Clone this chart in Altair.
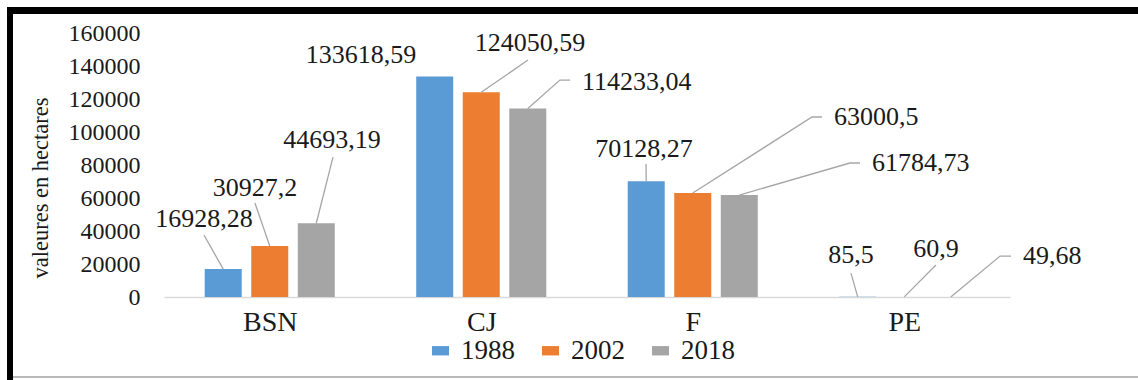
import json

import altair as alt
import pandas as pd

# Land cover areas (hectares) per unit and year
categories = ["BSN", "CJ", "F", "PE"]
years = ["1988", "2002", "2018"]
area_1988 = [16928.28, 133618.59, 70128.27, 85.5]
area_2002 = [30927.2, 124050.59, 63000.5, 60.9]
area_2018 = [44693.19, 114233.04, 61784.73, 49.68]
colors = ["#5b9bd5", "#ed7d31", "#a5a5a5"]
y_ticks = [0, 20000, 40000, 60000, 80000, 100000, 120000, 140000, 160000]

# Callout layout, one entry per bar (category-major, year-minor):
# label = (x shift from bar centre in category units, label height in hectares, alignment)
# leader = vertices of the leader line after the bar top
callouts = [
    {"label": (-0.091, 47300, "center"), "leader": [(-0.091, 37600)]},
    {"label": (-0.070, 66000, "center"), "leader": [(-0.070, 57000)]},
    {"label": (0.074, 95200, "center"), "leader": [(0.079, 84800)]},
    {"label": (-0.349, 146700, "center"), "leader": []},
    {"label": (0.230, 153900, "center"), "leader": [(0.221, 143600)]},
    {"label": (0.200, 130300, "left"), "leader": [(0.152, 131500), (0.200, 131500)]},
    {"label": (-0.010, 89700, "center"), "leader": [(-0.001, 80600)]},
    {"label": (0.611, 109100, "left"), "leader": [(0.564, 109100), (0.611, 109100)]},
    {"label": (0.571, 81200, "left"), "leader": [(0.523, 81200), (0.571, 81200)]},
    {"label": (-0.032, 25500, "center"), "leader": [(-0.032, 14500)]},
    {"label": (0.150, 29100, "center"), "leader": [(0.150, 19400)]},
    {"label": (0.285, 24800, "left"), "leader": [(0.233, 24800), (0.285, 24800)]},
]

GROUP_STEP = 0.22   # distance between bar centres inside a group
BAR_HALF = 0.0875   # half bar width, category units
FONT = "Liberation Serif, Times New Roman, serif"
TEXT = "#1a1a1a"

series = [area_1988, area_2002, area_2018]
bar_rows, text_rows, line_rows = [], [], []
k = 0
for i, cat in enumerate(categories):
    for j, yr in enumerate(years):
        v = series[j][i]
        xc = i + (j - 1) * GROUP_STEP
        bar_rows.append({"cat": cat, "year": yr, "value": v,
                         "x0": xc - BAR_HALF, "x1": xc + BAR_HALF})
        c = callouts[k]
        lx, ly, al = c["label"]
        text_rows.append({"x": xc + lx, "y": ly, "align": al,
                          "text": f"{v}".replace(".", ",")})
        if c["leader"]:
            line_rows.append({"id": k, "seq": 0, "x": xc, "y": v})
            for s, (dx, yy) in enumerate(c["leader"], start=1):
                line_rows.append({"id": k, "seq": s, "x": xc + dx, "y": yy})
        k += 1

bars_df = pd.DataFrame(bar_rows)
text_df = pd.DataFrame(text_rows)
lines_df = pd.DataFrame(line_rows)

xscale = alt.Scale(domain=[-0.5, 3.5], nice=False, zero=False)
yscale = alt.Scale(domain=[0, 160000], nice=False)

x_axis = alt.Axis(
    values=[0, 1, 2, 3], labelExpr=f"{json.dumps(categories)}[datum.value]",
    domainColor="#d9d9d9", domainWidth=1.5, ticks=False, grid=False,
    labelFont=FONT, labelFontSize=28, labelColor=TEXT, labelPadding=11,
    labelFlush=False, labelOverlap=False)
y_axis = alt.Axis(
    values=y_ticks, format="d", domain=False, ticks=False, grid=False,
    labelFont=FONT, labelFontSize=24, labelColor=TEXT, labelPadding=24,
    labelOverlap=False, labelBound=False,
    titleFont=FONT, titleFontSize=22.5, titleFontWeight="normal",
    titleColor=TEXT, titleX=-117, titleY=154.5, titleAngle=270,
    titleBaseline="alphabetic", titleAlign="center")
Y_TITLE = "valeures en hectares"

bars = alt.Chart(bars_df).mark_bar().encode(
    x=alt.X("x0:Q", scale=xscale, title=None, axis=x_axis),
    x2="x1:Q",
    y=alt.Y("value:Q", scale=yscale, title=Y_TITLE, axis=y_axis),
    y2=alt.datum(0),
    color=alt.Color("year:N", scale=alt.Scale(domain=years, range=colors),
                    legend=alt.Legend(
                        title=None, orient="none", direction="horizontal",
                        legendX=263, legendY=304, padding=0,
                        symbolType="M-1,-0.55H1V0.55H-1Z", symbolSize=289,
                        symbolStrokeWidth=0, labelFont=FONT, labelFontSize=27,
                        labelColor=TEXT, labelOffset=7, columnPadding=22)),
)

leaders = alt.Chart(lines_df).mark_line(color="#a6a6a6", strokeWidth=1.3).encode(
    x=alt.X("x:Q", scale=xscale, title=None, axis=x_axis),
    y=alt.Y("y:Q", scale=yscale, title=Y_TITLE, axis=y_axis),
    detail="id:N",
    order="seq:Q",
)

labels_c = alt.Chart(text_df).transform_filter("datum.align == 'center'").mark_text(
    font=FONT, fontSize=26, color=TEXT, align="center", baseline="middle"
).encode(x=alt.X("x:Q", scale=xscale, title=None, axis=x_axis),
         y=alt.Y("y:Q", scale=yscale, title=Y_TITLE, axis=y_axis), text="text:N")

labels_l = alt.Chart(text_df).transform_filter("datum.align == 'left'").mark_text(
    font=FONT, fontSize=26, color=TEXT, align="left", baseline="middle", dx=12
).encode(x=alt.X("x:Q", scale=xscale, title=None, axis=x_axis),
         y=alt.Y("y:Q", scale=yscale, title=Y_TITLE, axis=y_axis), text="text:N")

# Frame around the figure: heavy black top and left edges, thin grey bottom edge
one = pd.DataFrame({"k": [0]})
frame_top = alt.Chart(one).mark_rule(color="black", strokeWidth=7).encode(
    x=alt.value(-157), x2=alt.value(974), y=alt.value(-22.5))
frame_left = alt.Chart(one).mark_rule(color="black", strokeWidth=6).encode(
    x=alt.value(-154), y=alt.value(-26), y2=alt.value(347))
frame_bottom = alt.Chart(one).mark_rule(color="#a0a0a0", strokeWidth=1.5).encode(
    x=alt.value(-151), x2=alt.value(974), y=alt.value(344))

chart = alt.layer(
    bars, leaders, labels_c, labels_l, frame_top, frame_left, frame_bottom
).properties(
    width=846, height=264,
    autosize=alt.AutoSizeParams(type="none"),
    padding={"left": 164, "top": 33, "right": 128, "bottom": 83},
    background="white",
).configure_view(stroke=None).configure_axis(labelOverlap=False)

chart.save("out.html", embed_options={"renderer": "svg", "actions": False})
